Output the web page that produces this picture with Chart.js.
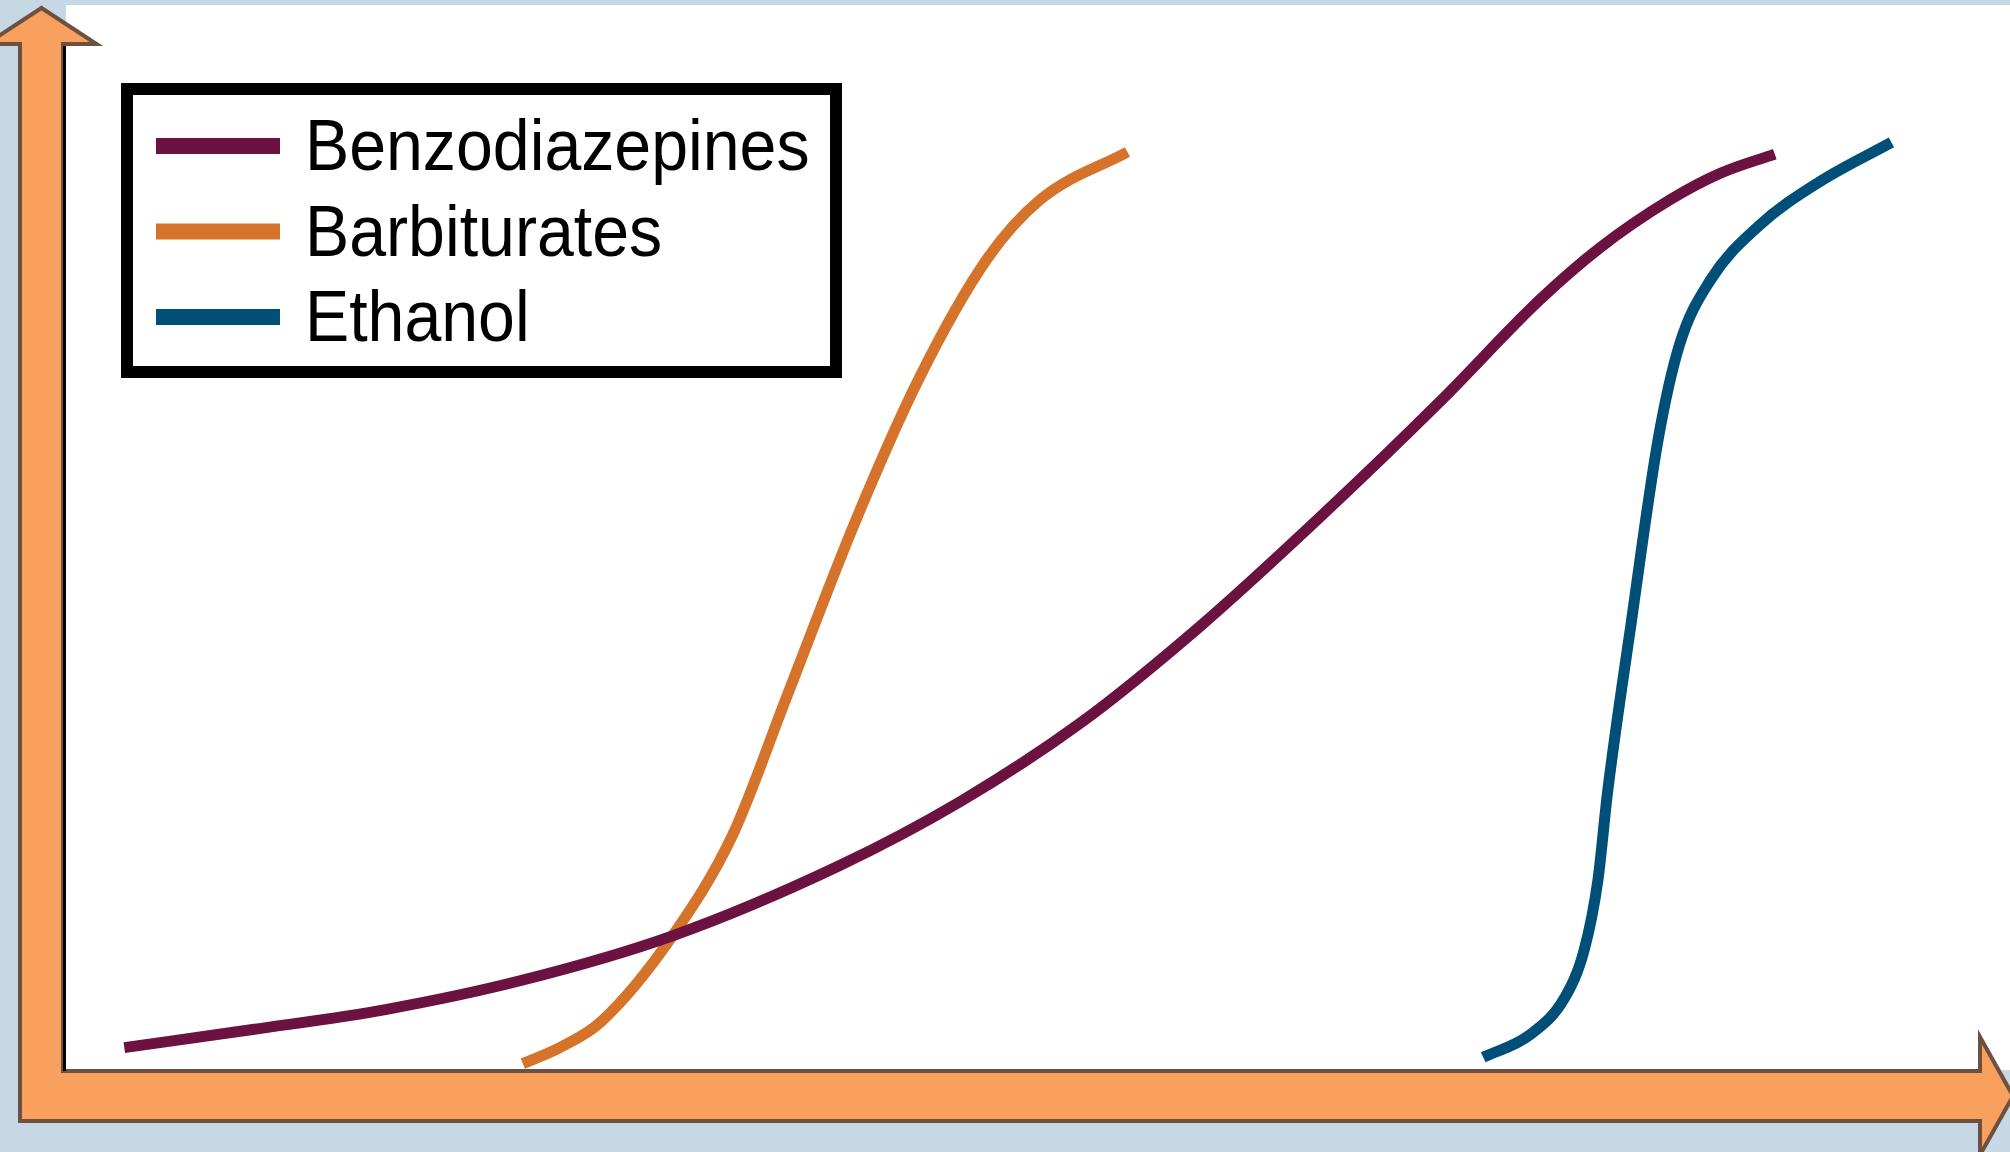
<!DOCTYPE html>
<html>
<head>
<meta charset="utf-8">
<title>Tolerance curves</title>
<script src="https://cdn.jsdelivr.net/npm/chart.js@4.4.1/dist/chart.umd.min.js"></script>
<style>
  html, body { margin: 0; padding: 0; background: #c5d8e4; }
  #wrap { width: 2010px; height: 1152px; position: relative; }
</style>
</head>
<body>
<div id="wrap"><canvas id="grafico"></canvas></div>
<script>
// nomes e cores das séries
var nomes = ['Benzodiazepines', 'Barbiturates', 'Ethanol'];
var cores = ['#6b1240', '#d6732a', '#004f78'];

// Benzodiazepines (eixos sem escala, 0-100)
var benzoX = [3.0, 9.6, 16.5, 23.4, 31.2, 39.8, 46.0, 52.2, 58.3, 64.5, 70.7, 75.8, 78.9, 82.5, 85.1, 87.9];
var benzoY = [2.1, 3.8, 5.7, 8.4, 12.6, 19.2, 25.2, 32.6, 41.6, 51.9, 62.8, 72.3, 77.2, 81.7, 84.2, 86.0];

// Barbiturates
var barbX = [23.5, 25.4, 27.5, 31.2, 34.3, 37.0, 40.6, 43.9, 47.4, 50.1, 54.6];
var barbY = [0.6, 2.1, 4.5, 12.6, 22.1, 34.7, 51.5, 65.0, 76.2, 81.7, 86.2];

// Ethanol
var etanolX = [72.9, 75.3, 77.1, 78.1, 78.8, 79.3, 80.5, 81.9, 83.0, 84.6, 87.1, 90.2, 93.9];
var etanolY = [1.2, 3.3, 6.8, 11.3, 17.8, 26.1, 41.8, 59.2, 68.1, 74.2, 79.3, 83.4, 87.1];

function pontos(xs, ys) {
  var lista = [];
  for (var i = 0; i < xs.length; i++) {
    lista.push({ x: xs[i], y: ys[i] });
  }
  return lista;
}

function serie(i, xs, ys) {
  return {
    label: nomes[i],
    data: pontos(xs, ys),
    showLine: true,
    borderColor: cores[i],
    backgroundColor: cores[i],
    borderWidth: 11,
    borderCapStyle: 'butt',
    borderJoinStyle: 'round',
    cubicInterpolationMode: 'monotone',
    pointRadius: 0,
    fill: false
  };
}

// fundo azul, área branca e as setas laranja dos eixos
var fundo = {
  id: 'fundo',
  beforeDraw: function (chart) {
    var ctx = chart.ctx;
    var a = chart.chartArea;
    ctx.save();
    ctx.fillStyle = '#c5d8e4';
    ctx.fillRect(0, 0, chart.width, chart.height);
    ctx.fillStyle = '#ffffff';
    ctx.fillRect(a.left, a.top, chart.width - a.left, a.bottom - a.top);
    ctx.restore();
  },
  afterDatasetsDraw: function (chart) {
    var ctx = chart.ctx;
    var a = chart.chartArea;
    var xL = a.left - 46, xR = a.left - 3;      // haste vertical
    var yT = a.bottom + 1, yB = a.bottom + 51;  // haste horizontal
    var cx = (xL + xR) / 2, cy = (yT + yB) / 2;
    var baseV = a.top + 39, baseH = chart.width - 30;

    ctx.save();
    ctx.beginPath();
    ctx.moveTo(cx, a.top + 3);
    ctx.lineTo(cx + 55, baseV);
    ctx.lineTo(xR, baseV);
    ctx.lineTo(xR, yT);
    ctx.lineTo(baseH, yT);
    ctx.lineTo(baseH, cy - 59);
    ctx.lineTo(baseH + 33, cy);
    ctx.lineTo(baseH, cy + 59);
    ctx.lineTo(baseH, yB);
    ctx.lineTo(xL, yB);
    ctx.lineTo(xL, baseV);
    ctx.lineTo(cx - 55, baseV);
    ctx.closePath();
    ctx.fillStyle = '#f8a15e';
    ctx.fill();
    ctx.lineWidth = 4;
    ctx.lineJoin = 'miter';
    ctx.strokeStyle = '#6e5040';
    ctx.stroke();

    // linha preta ao lado do eixo vertical
    ctx.fillStyle = '#000000';
    ctx.fillRect(xR, baseV + 2, 3, yT - baseV - 2);
    ctx.restore();
  }
};

// legenda com borda preta grossa
var legendaBox = {
  id: 'legendaBox',
  afterDraw: function (chart) {
    var ctx = chart.ctx;
    var bx = 121, by = 83, bw = 721, bh = 295;
    ctx.save();
    ctx.fillStyle = '#ffffff';
    ctx.fillRect(bx, by, bw, bh);
    ctx.lineWidth = 12;
    ctx.strokeStyle = '#000000';
    ctx.strokeRect(bx + 6, by + 6, bw - 12, bh - 12);

    ctx.font = '72px "Liberation Sans", Arial, sans-serif';
    ctx.textBaseline = 'alphabetic';
    chart.data.datasets.forEach(function (ds, i) {
      var base = 170 + i * 85.5;
      ctx.fillStyle = ds.borderColor;
      ctx.fillRect(156, base - 32, 124, 16);
      ctx.fillStyle = '#000000';
      ctx.save();
      ctx.translate(305, base);
      ctx.scale(0.92, 1);
      ctx.fillText(ds.label, 0, 0);
      ctx.restore();
    });
    ctx.restore();
  }
};

const grafico = document.getElementById('grafico');

new Chart(grafico, {
  type: 'scatter',
  data: {
    datasets: [
      serie(0, benzoX, benzoY),
      serie(1, barbX, barbY),
      serie(2, etanolX, etanolY)
    ]
  },
  options: {
    responsive: true,
    maintainAspectRatio: false,
    animation: false,
    layout: { padding: { left: 66, right: 0, top: 5, bottom: 82 } },
    scales: {
      x: { type: 'linear', min: 0, max: 100, display: false },
      y: { type: 'linear', min: 0, max: 100, display: false }
    },
    plugins: {
      legend: { display: false },
      tooltip: { enabled: false }
    }
  },
  plugins: [fundo, legendaBox]
});
</script>
</body>
</html>
